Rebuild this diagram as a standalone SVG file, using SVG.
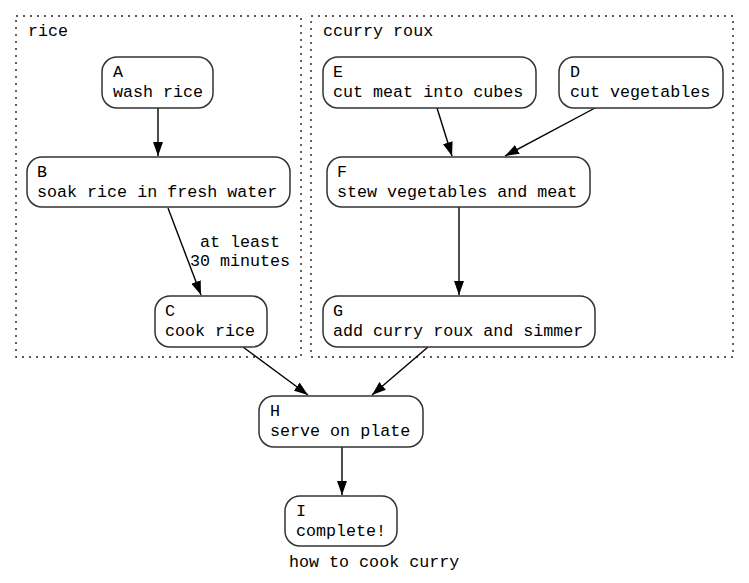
<svg xmlns="http://www.w3.org/2000/svg" width="749" height="583" viewBox="0 0 749 583">
<style>
text{font-family:"Liberation Mono","DejaVu Sans Mono",monospace;font-size:16.7px;fill:#000}
.cl{fill:none;stroke:#222;stroke-width:1.4;stroke-dasharray:2,5}
.nd{fill:#fff;stroke:#333;stroke-width:1.5}
.e{fill:none;stroke:#000;stroke-width:1.4;marker-end:url(#ah)}
</style>
<defs>
<marker id="ah" viewBox="0 0 14 10" refX="14" refY="5" markerWidth="14" markerHeight="10" markerUnits="userSpaceOnUse" orient="auto">
<path d="M0,0 L14,5 L0,10 z" fill="#000"/>
</marker>
</defs>
<g id="cluster-rice">
<rect class="cl" x="16" y="16" width="285" height="341"/>
<text x="28" y="36">rice</text>
</g>
<g id="cluster-curry">
<rect class="cl" x="311" y="16" width="422" height="341"/>
<text x="323" y="36">ccurry roux</text>
</g>
<g id="edges">
<line class="e" x1="158" y1="108" x2="158" y2="156"/>
<line class="e" x1="168" y1="208" x2="201" y2="295"/>
<text x="240" y="247" text-anchor="middle">at least</text>
<text x="240" y="266" text-anchor="middle">30 minutes</text>
<line class="e" x1="437" y1="108" x2="452" y2="156"/>
<line class="e" x1="595" y1="108" x2="505" y2="156"/>
<line class="e" x1="459" y1="207" x2="459" y2="295"/>
<line class="e" x1="243" y1="347" x2="308" y2="395"/>
<line class="e" x1="428" y1="347" x2="372" y2="395"/>
<line class="e" x1="342" y1="447" x2="342" y2="495"/>
</g>
<g id="A"><rect class="nd" x="102" y="57" width="111" height="51" rx="15"/><text x="113" y="77">A</text><text x="113" y="97">wash rice</text></g>
<g id="B"><rect class="nd" x="27" y="157" width="263" height="50" rx="15"/><text x="37" y="177">B</text><text x="37" y="197">soak rice in fresh water</text></g>
<g id="C"><rect class="nd" x="155" y="296" width="112" height="51" rx="15"/><text x="165" y="316">C</text><text x="165" y="336">cook rice</text></g>
<g id="E"><rect class="nd" x="323" y="57" width="213" height="51" rx="15"/><text x="333" y="77">E</text><text x="333" y="97">cut meat into cubes</text></g>
<g id="D"><rect class="nd" x="559" y="57" width="164" height="51" rx="15"/><text x="570" y="77">D</text><text x="570" y="97">cut vegetables</text></g>
<g id="F"><rect class="nd" x="327" y="157" width="263" height="50" rx="15"/><text x="337" y="177">F</text><text x="337" y="197">stew vegetables and meat</text></g>
<g id="G"><rect class="nd" x="323" y="296" width="272" height="51" rx="15"/><text x="333" y="316">G</text><text x="333" y="336">add curry roux and simmer</text></g>
<g id="H"><rect class="nd" x="259" y="396" width="164" height="51" rx="15"/><text x="270" y="416">H</text><text x="270" y="436">serve on plate</text></g>
<g id="I"><rect class="nd" x="285" y="496" width="112" height="50" rx="15"/><text x="296" y="516">I</text><text x="296" y="536">complete!</text></g>
<text x="289" y="567">how to cook curry</text>
</svg>
